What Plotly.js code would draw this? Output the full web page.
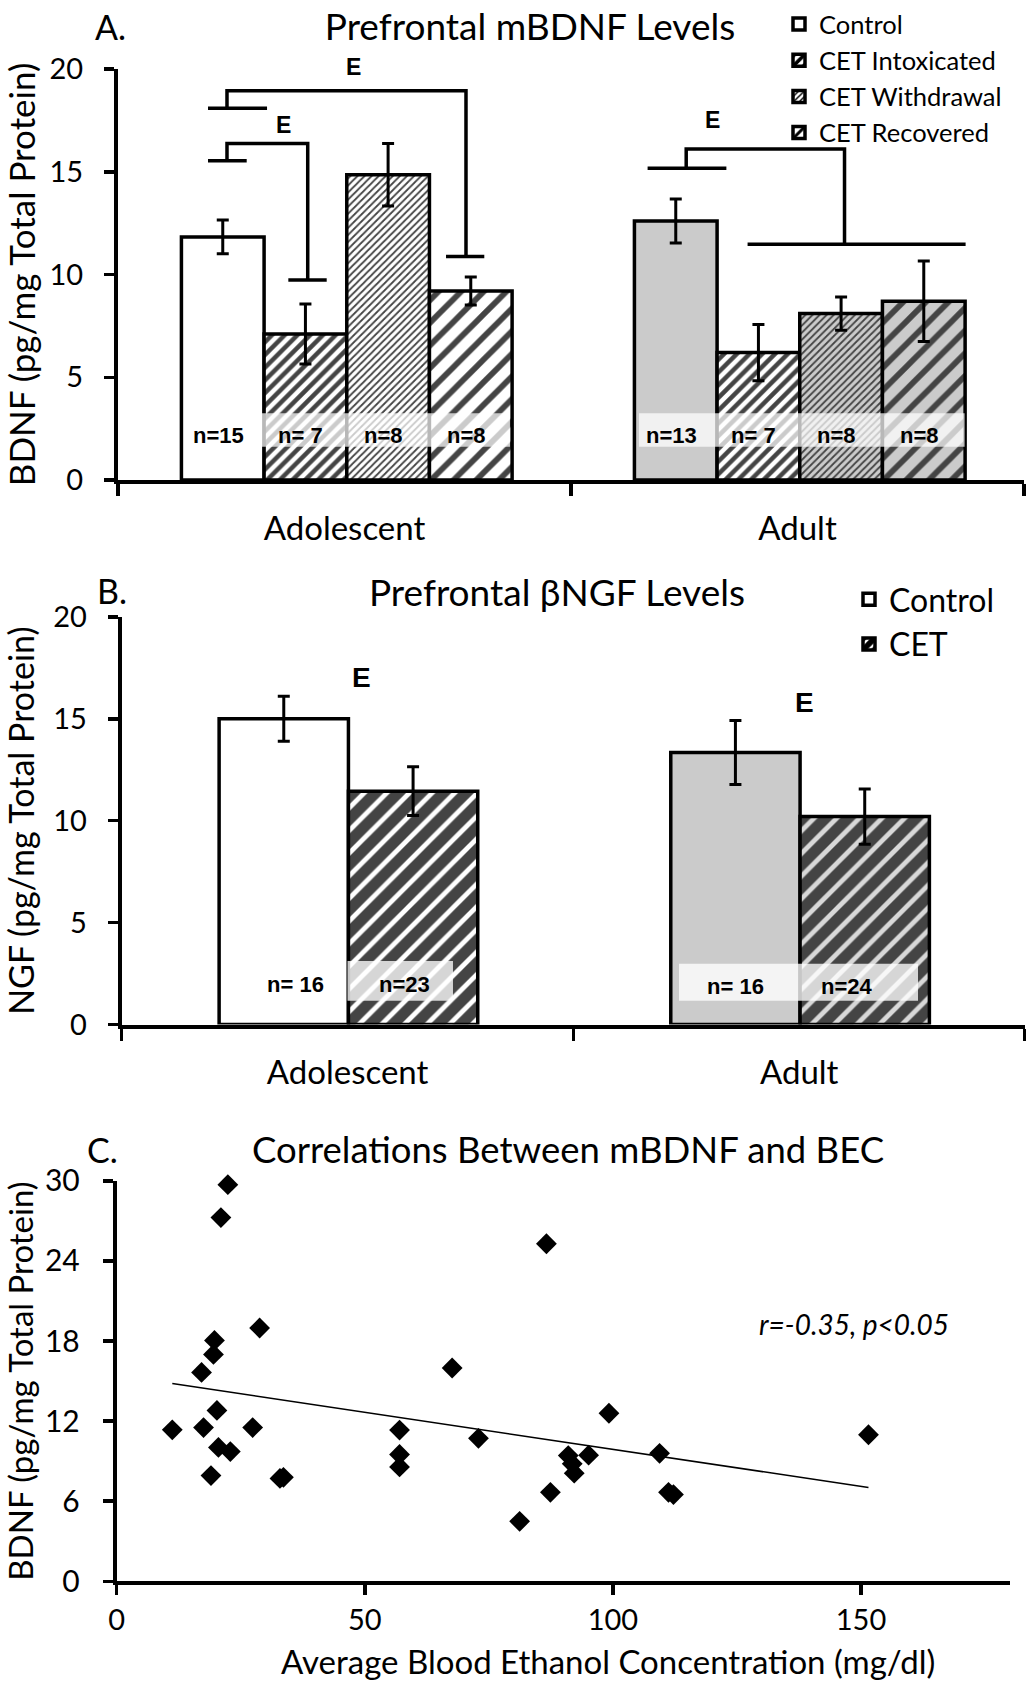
<!DOCTYPE html>
<html><head><meta charset="utf-8">
<script src="https://cdn.plot.ly/plotly-3.0.1.min.js"></script>
<style>html,body{margin:0;padding:0;background:#fff;} #chart{width:1026px;height:1682px;}</style>
</head><body><div id="chart"></div>
<script>
// ---------- Panel A: Prefrontal mBDNF levels ----------
const ageGroups = ['Adolescent', 'Adult'];
const bdnfControl = [11.83, 12.6];
const bdnfControlErr = [0.82, 1.07];
const bdnfIntox = [7.1, 6.2];
const bdnfIntoxErr = [1.46, 1.37];
const bdnfWithdrawal = [14.85, 8.1];
const bdnfWithdrawalErr = [1.52, 0.81];
const bdnfRecovered = [9.2, 8.7];
const bdnfRecoveredErr = [0.68, 1.96];
const nControlA = ['n=15', 'n=13'];
const nIntoxA = ['n= 7', 'n= 7'];
const nWithdrawalA = ['n=8', 'n=8'];
const nRecoveredA = ['n=8', 'n=8'];

// ---------- Panel B: Prefrontal betaNGF levels ----------
const ngfControl = [15.0, 13.35];
const ngfControlErr = [1.1, 1.57];
const ngfCET = [11.45, 10.2];
const ngfCETErr = [1.2, 1.35];
const nControlB = ['n= 16', 'n= 16'];
const nCETB = ['n=23', 'n=24'];

// ---------- Panel C: mBDNF vs BEC ----------
const becX = [11.2, 17.1, 17.5, 19.0, 19.7, 19.5, 20.2, 20.5, 21.0, 22.4, 22.9, 27.4, 28.8, 32.9, 33.6, 57.0, 57.0, 57.0, 67.6, 72.9, 81.2, 86.6, 87.4, 91.0, 91.8, 92.2, 95.1, 99.2, 109.4, 111.2, 112.2, 151.5];
const becBDNF = [11.35, 15.65, 11.52, 7.92, 18.05, 17.0, 12.8, 10.03, 27.25, 29.72, 9.72, 11.52, 18.98, 7.71, 7.79, 11.33, 9.5, 8.57, 15.98, 10.71, 4.49, 25.29, 6.67, 9.42, 8.8, 8.1, 9.45, 12.59, 9.59, 6.67, 6.5, 10.98];
const trendX = [11.2, 151.5];
const trendY = [14.82, 7.03];

// ---------- styling helpers ----------
const W = 1026, H = 1682;
const fx = px => px / W;
const fy = py => 1 - py / H;
const FONT = 'Lato, "Open Sans", sans-serif';
const BOLD = '"Liberation Sans", Arial, sans-serif';
const GRAY = '#cbcbcb';
const groupBg = ['#ffffff', GRAY];

const barW_A = 0.1825, startA = -0.36;
const barW_B = 0.2863, startB = -0.2843;

function barA(name, y, err, bg, pat, i) {
  return {
    type: 'bar', name: name, x: ageGroups, y: y, xaxis: 'x', yaxis: 'y', legend: 'legend',
    width: barW_A, offset: startA + i * barW_A,
    marker: { color: bg, line: { color: '#000', width: 3.5 },
      pattern: pat ? Object.assign({ fillmode: 'overlay', fgcolor: '#000', fgopacity: 1 }, pat) : { shape: '' } },
    error_y: { type: 'data', array: err, visible: true, color: '#000', thickness: 3, width: 6 }
  };
}
function barB(name, y, err, bg, pat, i, grp) {
  return {
    type: 'bar', name: name, x: ageGroups, y: y, xaxis: 'x2', yaxis: 'y2', legend: 'legend2', legendgroup: grp,
    width: barW_B, offset: startB + i * barW_B,
    marker: { color: bg, line: { color: '#000', width: 3.5 },
      pattern: pat ? Object.assign({ fillmode: 'overlay', fgcolor: '#000', fgopacity: 1 }, pat) : { shape: '' } },
    error_y: { type: 'data', array: err, visible: true, color: '#000', thickness: 3, width: 6 }
  };
}

const traces = [
  barA('Control', bdnfControl, bdnfControlErr, groupBg, null, 0),
  barA('CET Intoxicated', bdnfIntox, bdnfIntoxErr, ['#ffffff', '#ffffff'], { shape: '/', size: 9, solidity: 0.5 }, 1),
  barA('CET Withdrawal', bdnfWithdrawal, bdnfWithdrawalErr, groupBg, { shape: '/', size: 5, solidity: 0.36 }, 2),
  barA('CET Recovered', bdnfRecovered, bdnfRecoveredErr, groupBg, { shape: '/', size: 16, solidity: 0.36 }, 3),
  barB('Control', ngfControl, ngfControlErr, groupBg, null, 0, 'b1'),
  barB('CET', ngfCET, ngfCETErr, ['#ffffff', '#d8d8d8'], { shape: '/', size: 16, solidity: 0.7 }, 1, 'b2'),
  { type: 'scatter', mode: 'markers', x: becX, y: becBDNF, xaxis: 'x3', yaxis: 'y3', showlegend: false,
    marker: { symbol: 'diamond', size: 16, color: '#000' }, cliponaxis: false },
  { type: 'scatter', mode: 'lines', x: trendX, y: trendY, xaxis: 'x3', yaxis: 'y3', showlegend: false,
    line: { color: '#000', width: 1.5 } }
];

// ---------- shapes ----------
const shapes = [];
const bracketPathsA = [
  [[-0.3013,18.09],[-0.171,18.09]],
  [[-0.2594,18.09],[-0.2594,18.94],[0.2682,18.94],[0.2682,10.87]],
  [[0.2241,10.87],[0.3086,10.87]],
  [[-0.3013,15.54],[-0.2159,15.54]],
  [[-0.2594,15.54],[-0.2594,16.38],[-0.0812,16.38],[-0.0812,9.73]],
  [[-0.124,9.73],[-0.0393,9.73]],
  [[0.6691,15.17],[0.843,15.17]],
  [[0.7543,15.17],[0.7543,16.11],[1.1038,16.11],[1.1038,11.47]],
  [[0.8898,11.47],[1.3711,11.47]]
];
bracketPathsA.forEach(pts => {
  shapes.push({ type: 'path', xref: 'x', yref: 'y',
    path: 'M' + pts.map(p => p[0] + ',' + p[1]).join(' L'),
    line: { color: '#000', width: 3.5 } });
});
// translucent bands behind the n= labels
const bandFill = 'rgba(255,255,255,0.72)';
[[-0.1828, 0.3653, 1.62, 3.25], [0.6501, 1.3689, 1.62, 3.25]].forEach(b => shapes.push({
  type: 'rect', xref: 'x', yref: 'y', x0: b[0], x1: b[1], y0: b[2], y1: b[3], fillcolor: bandFill, line: { width: 0 }, layer: 'above' }));
[[0.0, 0.2335, 1.17, 3.12], [0.7339, 1.2631, 1.17, 2.98]].forEach(b => shapes.push({
  type: 'rect', xref: 'x2', yref: 'y2', x0: b[0], x1: b[1], y0: b[2], y1: b[3], fillcolor: 'rgba(255,255,255,0.78)', line: { width: 0 }, layer: 'above' }));

// ---------- annotations ----------
const ann = [];
function paperText(text, x, y, size, xanchor, opts) {
  ann.push(Object.assign({ text: text, xref: 'paper', yref: 'paper', x: fx(x), y: fy(y), xanchor: xanchor || 'center', yanchor: 'middle',
    showarrow: false, font: { family: FONT, size: size, color: '#000' } }, opts || {}));
}
paperText('A.', 93, 27, 34, 'left');
paperText('Prefrontal βNGF Levels', 557, 591, 37);
paperText('B.', 95, 590, 34, 'left');
paperText('Correlations Between mBDNF and BEC', 568, 1149, 36.5);
paperText('C.', 85, 1149, 34, 'left');
paperText('Average Blood Ethanol Concentration (mg/dl)', 608, 1661, 33);

function boldText(text, xref, yref, x, y, size) {
  ann.push({ text: text, xref: xref, yref: yref, x: x, y: y, xanchor: 'center', yanchor: 'middle', showarrow: false,
    font: { family: BOLD, size: size, color: '#000', weight: 'bold' } });
}
// significance markers
boldText('E', 'paper', 'paper', fx(353), fy(67), 23);
boldText('E', 'x', 'y', -0.1351, 17.27, 23);
boldText('E', 'x', 'y', 0.8113, 17.52, 23);
boldText('E', 'x2', 'y2', 0.0314, 17.02, 28);
boldText('E', 'x2', 'y2', 1.012, 15.8, 28);

// n labels panel A (centred on each bar)
[nControlA, nIntoxA, nWithdrawalA, nRecoveredA].forEach((labels, i) => {
  labels.forEach((t, g) => boldText(t, 'x', 'y', g + startA + (i + 0.5) * barW_A - 0.01, 2.15, 22));
});
// n labels panel B
const nBShift = [[0.025, 0.0], [-0.02, -0.04]];
[nControlB, nCETB].forEach((labels, i) => {
  labels.forEach((t, g) => boldText(t, 'x2', 'y2', g + startB + (i + 0.5) * barW_B + nBShift[i][g], g === 0 ? 1.99 : 1.87, 22));
});
ann.push({ text: 'r=-0.35, p<0.05', xref: 'x3', yref: 'y3', x: 148.6, y: 19.25, xanchor: 'center', yanchor: 'middle', showarrow: false,
  font: { family: FONT, size: 28, color: '#000', style: 'italic' } });

// ---------- axes ----------
const axBase = { showline: true, linecolor: '#000', linewidth: 4, ticks: 'outside', tickcolor: '#000', tickwidth: 3.5,
  showgrid: false, zeroline: false, fixedrange: true };
function xCat(domain, anchor) {
  return Object.assign({}, axBase, { domain: domain, anchor: anchor, type: 'category', categoryorder: 'array', categoryarray: ageGroups,
    range: [-0.5, 1.5], tickson: 'boundaries', ticklen: 12, ticklabelstandoff: 16,
    tickfont: { family: FONT, size: 33, color: '#000' } });
}
function yLin(domain, anchor, range, dtick, title, tsize, standoff, tickSize, tls) {
  return Object.assign({}, axBase, { domain: domain, anchor: anchor, range: range, dtick: dtick, tick0: 0, ticklen: 10,
    ticklabelstandoff: tls, tickfont: { family: FONT, size: tickSize, color: '#000' },
    title: { text: title, font: { family: FONT, size: tsize, color: '#000' }, standoff: standoff } });
}

const layout = {
  width: W, height: H, margin: { l: 0, r: 0, t: 0, b: 0 }, paper_bgcolor: '#fff', plot_bgcolor: '#fff',
  barmode: 'group',
  title: { text: 'Prefrontal mBDNF Levels', x: fx(530), xanchor: 'center', y: fy(27), yanchor: 'middle', yref: 'container',
    font: { family: FONT, size: 37, color: '#000' } },
  xaxis: xCat([fx(118), fx(1024)], 'y'),
  yaxis: yLin([fy(480), fy(69)], 'x', [0, 20], 5, 'BDNF (pg/mg Total Protein)', 35, 12, 29, 15),
  xaxis2: xCat([fx(121.7), fx(1025)], 'y2'),
  yaxis2: yLin([fy(1024.6), fy(616.8)], 'x2', [0, 20], 5, 'NGF (pg/mg Total Protein)', 34, 12, 29, 15),
  xaxis3: Object.assign({}, axBase, { domain: [fx(116.7), fx(1009.9)], anchor: 'y3', range: [0, 180], dtick: 50, tick0: 0,
    ticklen: 10, ticklabelstandoff: 0, tickfont: { family: FONT, size: 29, color: '#000' } }),
  yaxis3: yLin([fy(1581.3), fy(1180.9)], 'x3', [0, 30], 6, 'BDNF (pg/mg Total Protein)', 33, 12, 30, 17),
  legend: { x: fx(779), xanchor: 'left', y: fy(1), yanchor: 'top', bgcolor: 'rgba(0,0,0,0)', borderwidth: 0,
    font: { family: FONT, size: 25.5, color: '#000' }, traceorder: 'normal' },
  legend2: { x: fx(849), xanchor: 'left', y: fy(572), yanchor: 'top', bgcolor: 'rgba(0,0,0,0)', borderwidth: 0,
    font: { family: FONT, size: 32, color: '#000' }, traceorder: 'normal', tracegroupgap: 10 },
  shapes: shapes,
  annotations: ann
};

Plotly.newPlot('chart', traces, layout, { displayModeBar: false, staticPlot: true });
</script>
</body></html>
